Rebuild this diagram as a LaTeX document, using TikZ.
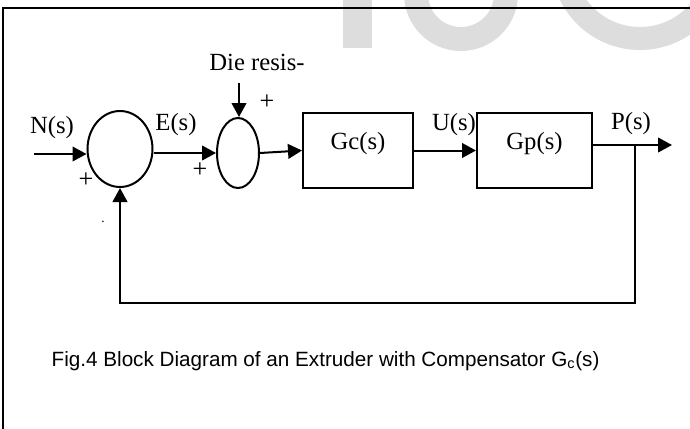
\documentclass[tikz,border=0pt]{standalone}
\usepackage{fontspec}
\setmainfont{Liberation Serif}
\newfontfamily\capfont{Liberation Sans}
\usetikzlibrary{arrows.meta,shapes.geometric,calc}
\definecolor{Mark}{RGB}{221,221,221}
\tikzset{
  sumnode/.style={draw,ellipse,line width=1.5pt,inner sep=0pt},
  block/.style={draw,rectangle,line width=1.5pt,minimum height=56.25pt,inner sep=0pt,
    font=\fontsize{18.5}{22}\selectfont,text depth=14.75pt},
  sig/.style={line width=1.5pt,line join=miter,-{Triangle[length=10.5pt,width=11pt]}},
  lbl/.style={font=\fontsize{18.5}{22}\selectfont},
  sgn/.style={font=\fontsize{19.5}{22}\selectfont}
}

\begin{document}
\begin{tikzpicture}[x=.75pt,y=-.75pt]
\useasboundingbox (0,0) rectangle (690,429);
\begin{scope}
  \clip (0,0) rectangle (690,429);
  \fill[Mark] (343,0) rectangle (372,48);
  \fill[Mark,even odd rule] (461,-6) circle[radius=57] (461,-6) circle[radius=33];
  \fill[Mark,even odd rule] (640,-39) circle[radius=89] (640,-39) circle[radius=66];
\end{scope}
\draw[line width=1.5pt] (3,429) -- (3,7.5) -- (690,7.5);

\node[sumnode,minimum width=48.75pt,minimum height=57pt] (sum1) at (120,149) {};
\node[sumnode,minimum width=31.5pt,minimum height=52.5pt] (sum2) at (238,153) {};
\node[block,minimum width=82.5pt] (gc) at (358,150.5) {Gc(s)};
\node[block,minimum width=86.25pt] (gp) at (534.5,150.5) {Gp(s)};

\node[lbl] (nlbl) at (52,128) {N(s)};
\node[lbl] (elbl) at (176,125) {E(s)};
\node[lbl] (ulbl) at (454,125) {U(s)};
\node[lbl] (plbl) at (631,124) {P(s)};
\node[lbl] (dlbl) at (257,62) {Die resis-};
\node[sgn] (plus1) at (86,180) {+};
\node[sgn] (plus2) at (200,170) {+};
\node[sgn] (plus3) at (267,102) {+};
\node[font=\fontsize{10}{12}\selectfont] (dot) at (103,222) {.};

\coordinate (nin) at (34,154);
\coordinate (dist) at (239,83);
\coordinate (pout) at (672,145);
\coordinate (tap) at (635,145);
\coordinate (fb) at (635,303);

\draw[sig] (nin) -- (nin -| sum1.west);
\draw[sig] (sum1.east |- sum2.west) -- (sum2.west);
\draw[sig] (sum2.east) -- (gc.west);
\draw[sig] (gc.east) -- (gp.west);
\draw[sig] (gp.east |- pout) -- (pout);
\draw[sig] (dist) -- (dist |- sum2.north);
\draw[sig] (tap) -- (fb) -- (fb -| sum1.south) -- (sum1.south);

\node[font=\capfont\fontsize{15.5}{18}\selectfont,anchor=base west] (cap) at (47,366)
  {Fig.4 Block Diagram of an Extruder with Compensator G\textsubscript{c}(s)};
\end{tikzpicture}
\end{document}
